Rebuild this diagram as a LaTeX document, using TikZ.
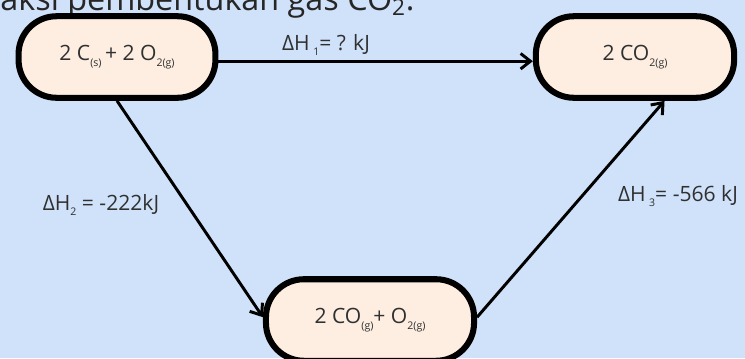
\documentclass[tikz,border=0pt]{standalone}
\usepackage{fontspec}
\setmainfont{Open Sans}
\usetikzlibrary{arrows.meta}
\usepackage{xcolor}
\definecolor{skyback}{RGB}{207,226,250}
\definecolor{pillcream}{RGB}{253,238,225}
\definecolor{inkgray}{RGB}{48,48,48}
% tiny lowered subscript, as in the chemical formulas
\newcommand{\chsub}[1]{\raisebox{-0.5ex}{\fontsize{7.5}{8}\selectfont #1}}

\begin{document}
\begin{tikzpicture}[x=0.025cm,y=-0.025cm,
  pill/.style={draw=black,line width=4.3pt,fill=pillcream,rounded corners=27pt,
    minimum height=58pt,inner sep=0pt,text=inkgray,font=\fontsize{15}{17}\selectfont},
  react/.style={line width=2.1pt,-{Straight Barb[length=7pt,width=11pt,line width=2.1pt]}},
  dhlabel/.style={text=inkgray,font=\fontsize{15}{17}\selectfont}]

  % --- background ---
  \clip (0,0) rectangle (745,358);
  \fill[skyback] (0,0) rectangle (745,358);

  % --- title line (cut at the top) ---
  \node[anchor=base west,inner sep=0pt,text=black!85,font=\fontsize{23}{26}\selectfont]
    (title) at (-38,10) {Reaksi pembentukan gas CO\textsubscript{2}.};

  % --- states ---
  \node[pill,minimum width=140pt] (reac) at (117,57)
    {2 C\chsub{(s)}\,+ 2 O\chsub{2(g)}};
  \node[pill,minimum width=141pt] (prod) at (635,57)
    {2 CO\chsub{2(g)}};
  \node[pill,minimum width=148pt] (inter) at (370,320)
    {2 CO\chsub{(g)}+ O\chsub{2(g)}};

  % --- reaction paths ---
  \draw[react] ([yshift=-3pt]reac.east) -- ([yshift=-3pt]prod.west);
  \draw[react] (reac.south) -- ([yshift=2pt]inter.west);
  \draw[react] ([yshift=2pt]inter.east) -- ([xshift=21pt]prod.south);

  % --- enthalpy labels ---
  \node[dhlabel] (dh1) at (326,45) {ΔH\,\chsub{1}= ? kJ};
  \node[dhlabel] (dh2) at (101,205) {ΔH\chsub{2} = -222kJ};
  \node[dhlabel] (dh3) at (678,196) {ΔH\,\chsub{3}= -566 kJ};

\end{tikzpicture}
\end{document}
